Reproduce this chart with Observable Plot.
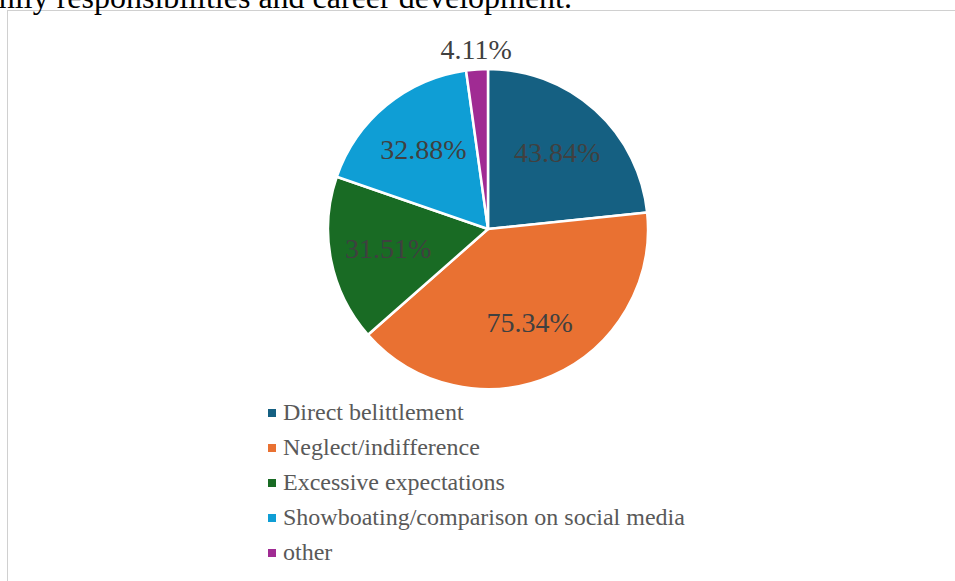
<!DOCTYPE html>
<html><head><meta charset="utf-8">
<script src="https://cdn.jsdelivr.net/npm/d3@7"></script>
<script src="https://cdn.jsdelivr.net/npm/@observablehq/plot@0.6"></script>
<style>
html,body{margin:0;padding:0;background:#fff;width:955px;height:581px;overflow:hidden;position:relative;font-family:"Liberation Serif","Times New Roman",serif;}
#frame{position:absolute;left:7px;top:10px;width:1000px;height:700px;border-left:1px solid #d0d0d0;border-top:1px solid #d0d0d0;}
#caption{position:absolute;right:383px;top:-19px;white-space:nowrap;font-size:32px;line-height:32px;color:#000;}
#chart{position:absolute;left:0;top:0;}
#legend{position:absolute;left:268px;top:395px;font-size:24px;color:#595959;}
.item{height:35px;line-height:35px;display:flex;align-items:center;white-space:nowrap;}
.sw{width:8px;height:8px;margin-right:7px;flex:none;}
</style></head><body>
<div id="frame"></div>
<div id="caption">family responsibilities and career development.</div>
<div id="chart"></div>
<div id="legend"></div>
<script>
const categories = ["Direct belittlement", "Neglect/indifference", "Excessive expectations", "Showboating/comparison on social media", "other"];
const values = [43.84, 75.34, 31.51, 32.88, 4.11];
const colors = ["#156082", "#E97132", "#196B24", "#0F9ED5", "#A02B93"];

const data = categories.map((c, i) => ({category: c, value: values[i]}));
const color = Plot.scale({color: {type: "ordinal", domain: categories, range: colors}});
const arcs = d3.pie().sort(null).value(d => d.value)(data);

const labels = arcs.map(a => {
  const mid = (a.startAngle + a.endAngle) / 2;
  const share = (a.endAngle - a.startAngle) / (2 * Math.PI);
  const r = share < 0.05 ? 1.125 : 0.64;
  return {x: r * Math.sin(mid), y: r * Math.cos(mid), text: a.data.value.toFixed(2) + "%"};
});

const slices = (index, scales) => {
  const cx = scales.x(0), cy = scales.y(0), r = scales.x(1) - scales.x(0);
  const arc = d3.arc().innerRadius(0).outerRadius(r);
  const g = d3.create("svg:g").attr("transform", `translate(${cx},${cy})`);
  g.selectAll("path").data(arcs).join("path")
    .attr("d", arc)
    .attr("fill", d => color.apply(d.data.category))
    .attr("stroke", "#fff")
    .attr("stroke-width", 2.5)
    .attr("stroke-linejoin", "round");
  return g.node();
};

const plot = Plot.plot({
  width: 955,
  height: 400,
  marginLeft: 328,
  marginRight: 307,
  marginTop: 69,
  marginBottom: 11,
  style: {background: "transparent", fontFamily: "'Liberation Serif','Times New Roman',serif", overflow: "visible"},
  x: {domain: [-1, 1], axis: null},
  y: {domain: [-1, 1], axis: null},
  marks: [
    slices,
    Plot.text(labels, {x: "x", y: "y", text: "text", fill: "#404040", fontSize: 28})
  ]
});
document.getElementById("chart").appendChild(plot);

const legend = d3.select("#legend");
const items = legend.selectAll(".item").data(categories).join("div").attr("class", "item");
items.append("span").attr("class", "sw").style("background", d => color.apply(d));
items.append("span").text(d => d);
</script>
</body></html>
